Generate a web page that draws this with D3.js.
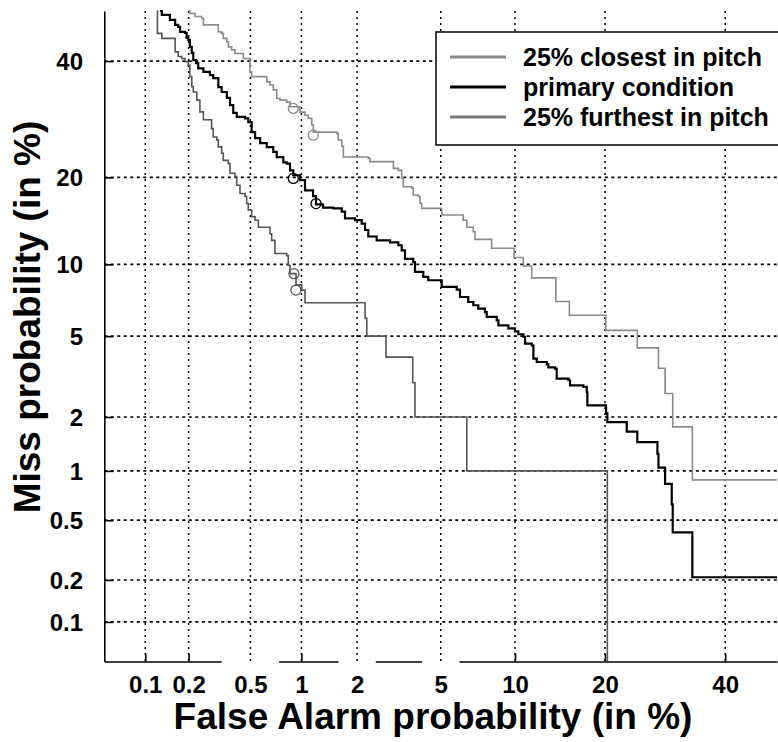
<!DOCTYPE html>
<html>
<head>
<meta charset="utf-8">
<script src="https://cdn.jsdelivr.net/npm/d3@7"></script>
<style>
  html, body { margin: 0; padding: 0; background: #fff; }
  svg { display: block; }
  text { font-family: "Liberation Sans", Arial, Helvetica, sans-serif; font-weight: bold; fill: #000; }
</style>
</head>
<body>
<svg id="chart" width="778" height="742"></svg>
<script>
// ---------------- data (all values in %) ----------------
const xTickValues = [0.1, 0.2, 0.5, 1, 2, 5, 10, 20, 40];
const xTickLabels = ["0.1", "0.2", "0.5", "1", "2", "5", "10", "20", "40"];
const yTickValues = [0.1, 0.2, 0.5, 1, 2, 5, 10, 20, 40];
const yTickLabels = ["0.1", "0.2", "0.5", "1", "2", "5", "10", "20", "40"];
const xGapLabels = ["0.5", "2", "5"];

const seriesNames = ["25% closest in pitch", "primary condition", "25% furthest in pitch"];

// primary condition (false alarm %, miss %)
const primaryFA = [0.127,0.131,0.149,0.162,0.170,0.175,0.189,0.194,0.199,0.204,0.210,0.215,0.224,0.232,0.251,0.277,0.291,0.314,0.330,0.356,0.373,0.391,0.411,0.463,0.485,0.509,0.534,0.573,0.628,0.687,0.720,0.787,0.824,0.861,0.899,0.982,1.048,1.162,1.207,1.319,1.50,1.663,1.73,1.95,2.11,2.195,2.28,2.51,2.92,3.20,3.32,3.44,3.76,3.83,4.18,4.40,5.05,5.86,6.05,6.55,6.87,7.20,7.66,7.78,8.52,8.65,9.44,10.0,10.29,10.74,10.89,11.51,11.67,12.0,13.0,13.17,13.87,14.06,15.39,15.57,17.18,17.6,17.68,20.15,20.33,23.12,24.72,27.93,28.10,29.20,30.33,30.50,33.94,50];
const primaryMiss = [50,49.2,48.2,47.2,46.8,45.8,45.6,44.6,44.2,42.8,41.6,40.2,39.6,38.6,37.9,37.3,36.7,35.0,34.1,33.0,31.7,30.3,29.6,29.35,28.7,27.0,26.0,25.2,24.55,23.8,23.0,22.2,22.0,21.0,20.3,19.6,18.2,17.45,16.4,16.0,15.9,15.5,14.7,14.5,14.1,13.4,12.7,12.3,12.1,11.8,11.3,10.5,10.2,9.34,8.93,8.66,8.14,7.94,7.40,7.05,6.83,6.61,6.39,6.09,5.88,5.59,5.42,5.26,5.10,4.96,4.62,4.54,3.93,3.79,3.69,3.57,3.52,3.15,3.09,2.91,2.86,2.69,2.30,2.09,1.88,1.67,1.46,1.255,1.046,0.837,0.628,0.418,0.209,0.209];

// 25% closest in pitch
const closestFA = [0.199,0.204,0.221,0.245,0.251,0.314,0.330,0.338,0.356,0.364,0.382,0.401,0.452,0.497,0.509,0.628,0.657,0.687,0.720,0.753,0.824,0.861,0.982,1.048,1.094,1.143,1.166,1.564,1.594,1.663,1.695,2.28,2.325,3.03,3.20,3.32,3.38,3.70,3.76,3.97,4.04,4.11,5.05,6.24,6.46,6.87,6.98,8.14,9.92,10.74,11.51,13.97,15.49,20.12,24.72,28.10,29.20,30.50,33.94,50];
const closestMiss = [50,49.5,48.9,48.5,47.2,45.8,45.5,44.5,43.8,42.8,42.2,41.5,40.5,37.9,37.0,36.0,35.4,34.5,32.9,32.6,32.25,31.4,30.45,29.9,29.35,28.2,27.0,26.8,25.7,24.7,23.0,22.8,22.3,21.3,21.0,19.85,18.7,18.5,17.6,17.4,16.5,15.9,15.1,14.5,13.7,13.2,12.4,11.5,10.62,9.85,8.85,7.08,6.19,5.31,4.42,3.54,2.65,1.77,0.885,0.885];

// 25% furthest in pitch
const furthestFA = [0.121,0.122,0.131,0.162,0.170,0.180,0.189,0.199,0.204,0.210,0.215,0.227,0.238,0.251,0.284,0.291,0.307,0.314,0.330,0.338,0.364,0.373,0.401,0.411,0.431,0.463,0.474,0.485,0.509,0.534,0.559,0.657,0.672,0.703,0.824,0.841,0.861,0.932,1.004,1.048,2.195,2.24,2.79,3.74,3.83,6.46,20.33];
const furthestMiss = [50,45.5,44.5,41.8,40.9,40.5,39.9,39.2,37,35.1,34.1,32.6,30.5,29.1,27.6,26.2,25.7,24.6,23.6,22.5,22,20.6,20.1,18.9,17.8,17.4,16.5,15.7,14.9,14.5,13.7,13,12.3,11,10.8,9.9,9.2,8.3,7.9,7,6,5,4,3,2,1,0.01];

// operating-point markers
const closestMarkFA = [0.899, 1.166];
const closestMarkMiss = [31.1, 26.5];
const primaryMarkFA = [0.899, 1.207];
const primaryMarkMiss = [19.85, 16.5];
const furthestMarkFA = [0.907, 0.93];
const furthestMarkMiss = [9.2, 7.9];

// ---------------- probit helper ----------------
function probit(p) {
  const a=[-3.969683028665376e+01,2.209460984245205e+02,-2.759285104469687e+02,1.383577518672690e+02,-3.066479806614716e+01,2.506628277459239e+00];
  const b=[-5.447609879822406e+01,1.615858368580409e+02,-1.556989798598866e+02,6.680131188771972e+01,-1.328068155288572e+01];
  const c=[-7.784894002430293e-03,-3.223964580411365e-01,-2.400758277161838e+00,-2.549732539343734e+00,4.374664141464968e+00,2.938163982698783e+00];
  const d=[7.784695709041462e-03,3.224671290700398e-01,2.445134137142996e+00,3.754408661907416e+00];
  const plow = 0.02425, phigh = 1 - plow;
  if (p <= 0) return -8; if (p >= 1) return 8;
  let q, r;
  if (p < plow) { q = Math.sqrt(-2*Math.log(p)); return (((((c[0]*q+c[1])*q+c[2])*q+c[3])*q+c[4])*q+c[5])/((((d[0]*q+d[1])*q+d[2])*q+d[3])*q+1); }
  if (p <= phigh) { q = p-0.5; r = q*q; return (((((a[0]*r+a[1])*r+a[2])*r+a[3])*r+a[4])*r+a[5])*q/(((((b[0]*r+b[1])*r+b[2])*r+b[3])*r+b[4])*r+1); }
  q = Math.sqrt(-2*Math.log(1-p)); return -(((((c[0]*q+c[1])*q+c[2])*q+c[3])*q+c[4])*q+c[5])/((((d[0]*q+d[1])*q+d[2])*q+d[3])*q+1);
}

// ---------------- layout ----------------
const L = 104.3, R = 777, T = 11, B = 661.5;
const svg = d3.select("#chart");
svg.append("rect").attr("width", 778).attr("height", 742).attr("fill", "#fff");

const x = d3.scaleLinear().domain([probit(0.0005), probit(0.5)]).range([L, R]);
const y = d3.scaleLinear().domain([probit(0.0005), probit(0.5)]).range([B, T]);
const X = v => x(probit(v / 100));
const Y = v => y(probit(v / 100));

// axes (ticks inward)
const xAxis = d3.axisBottom(x)
  .tickValues(xTickValues.map(v => probit(v / 100)))
  .tickFormat((d, i) => xTickLabels[i])
  .tickSizeInner(-8).tickSizeOuter(0);
const yAxis = d3.axisLeft(y)
  .tickValues(yTickValues.map(v => probit(v / 100)))
  .tickFormat((d, i) => yTickLabels[i])
  .tickSizeInner(-9).tickSizeOuter(0);

const gx = svg.append("g").attr("transform", `translate(0,${B})`).call(xAxis);
const gy = svg.append("g").attr("transform", `translate(${L},0)`).call(yAxis);
[gx, gy].forEach(g => {
  g.select(".domain").attr("stroke", "#000").attr("stroke-width", 1.6);
  g.selectAll(".tick line").attr("stroke", "#000").attr("stroke-width", 1.6);
  g.selectAll(".tick text").attr("font-size", 24).attr("font-weight", "bold")
    .attr("font-family", '"Liberation Sans", Arial, sans-serif').attr("fill", "#000");
});
gx.selectAll(".tick text").attr("y", 693 - B).attr("dy", 0);
gy.selectAll(".tick text").attr("x", 83 - L).attr("dy", 8.5);

// gaps in the bottom axis line under some labels
gx.selectAll(".tick").each(function(d, i) {
  if (xGapLabels.indexOf(xTickLabels[i]) < 0) return;
  const bb = d3.select(this).select("text").node().getBBox();
  const cx = x(d);
  svg.append("rect")
    .attr("x", cx + bb.x - 12).attr("y", B - 10)
    .attr("width", bb.width + 24).attr("height", 14)
    .attr("fill", "#fff");
});

// grid
const grid = svg.append("g").attr("stroke", "#000").attr("fill", "none");
grid.selectAll("line.v").data(xTickValues).join("line")
  .attr("class", "v")
  .attr("x1", d => X(d)).attr("x2", d => X(d))
  .attr("y1", T).attr("y2", B)
  .attr("stroke-width", 1.5).attr("stroke-dasharray", "2,4");
grid.selectAll("line.h").data(yTickValues).join("line")
  .attr("class", "h")
  .attr("x1", L).attr("x2", R)
  .attr("y1", d => Y(d)).attr("y2", d => Y(d))
  .attr("stroke-width", 1.7).attr("stroke-dasharray", "3,3.5");

// curves
svg.append("clipPath").attr("id", "plotclip").append("rect")
  .attr("x", L).attr("y", T - 2).attr("width", R - L + 2).attr("height", B - T + 2);

const line = d3.line().x(d => X(d[0])).y(d => Y(d[1])).curve(d3.curveStepAfter);
const zip = (a, b) => a.map((v, i) => [v, b[i]]);

const series = [
  { fa: furthestFA, miss: furthestMiss, mfa: furthestMarkFA, mmiss: furthestMarkMiss, color: "#555", width: 1.6 },
  { fa: closestFA, miss: closestMiss, mfa: closestMarkFA, mmiss: closestMarkMiss, color: "#8a8a8a", width: 1.6 },
  { fa: primaryFA, miss: primaryMiss, mfa: primaryMarkFA, mmiss: primaryMarkMiss, color: "#000", width: 2.2 }
];
const curves = svg.append("g").attr("clip-path", "url(#plotclip)");
series.forEach(s => {
  curves.append("path").datum(zip(s.fa, s.miss))
    .attr("d", line).attr("fill", "none")
    .attr("stroke", s.color).attr("stroke-width", s.width);
  curves.selectAll(null).data(zip(s.mfa, s.mmiss)).join("circle")
    .attr("cx", d => X(d[0])).attr("cy", d => Y(d[1])).attr("r", 5)
    .attr("fill", "none").attr("stroke", s.color).attr("stroke-width", 1.3);
});

// legend
const lg = svg.append("g");
lg.append("rect").attr("x", 436).attr("y", 32).attr("width", 345).attr("height", 113)
  .attr("fill", "#fff").attr("stroke", "#000").attr("stroke-width", 1.5);
const legendColors = ["#8a8a8a", "#000", "#7a7a7a"];
seriesNames.forEach((name, i) => {
  const cy = 57 + i * 30;
  lg.append("line").attr("x1", 450).attr("x2", 506).attr("y1", cy).attr("y2", cy)
    .attr("stroke", legendColors[i]).attr("stroke-width", 3);
  lg.append("text").attr("x", 523).attr("y", cy + 9).attr("font-size", 25).text(name);
});

// axis titles
svg.append("text").attr("x", 433).attr("y", 729).attr("text-anchor", "middle")
  .attr("font-size", 37).text("False Alarm probability (in %)");
svg.append("text").attr("transform", "translate(40,317) rotate(-90)").attr("text-anchor", "middle")
  .attr("font-size", 37).text("Miss probability (in %)");
</script>
</body>
</html>
